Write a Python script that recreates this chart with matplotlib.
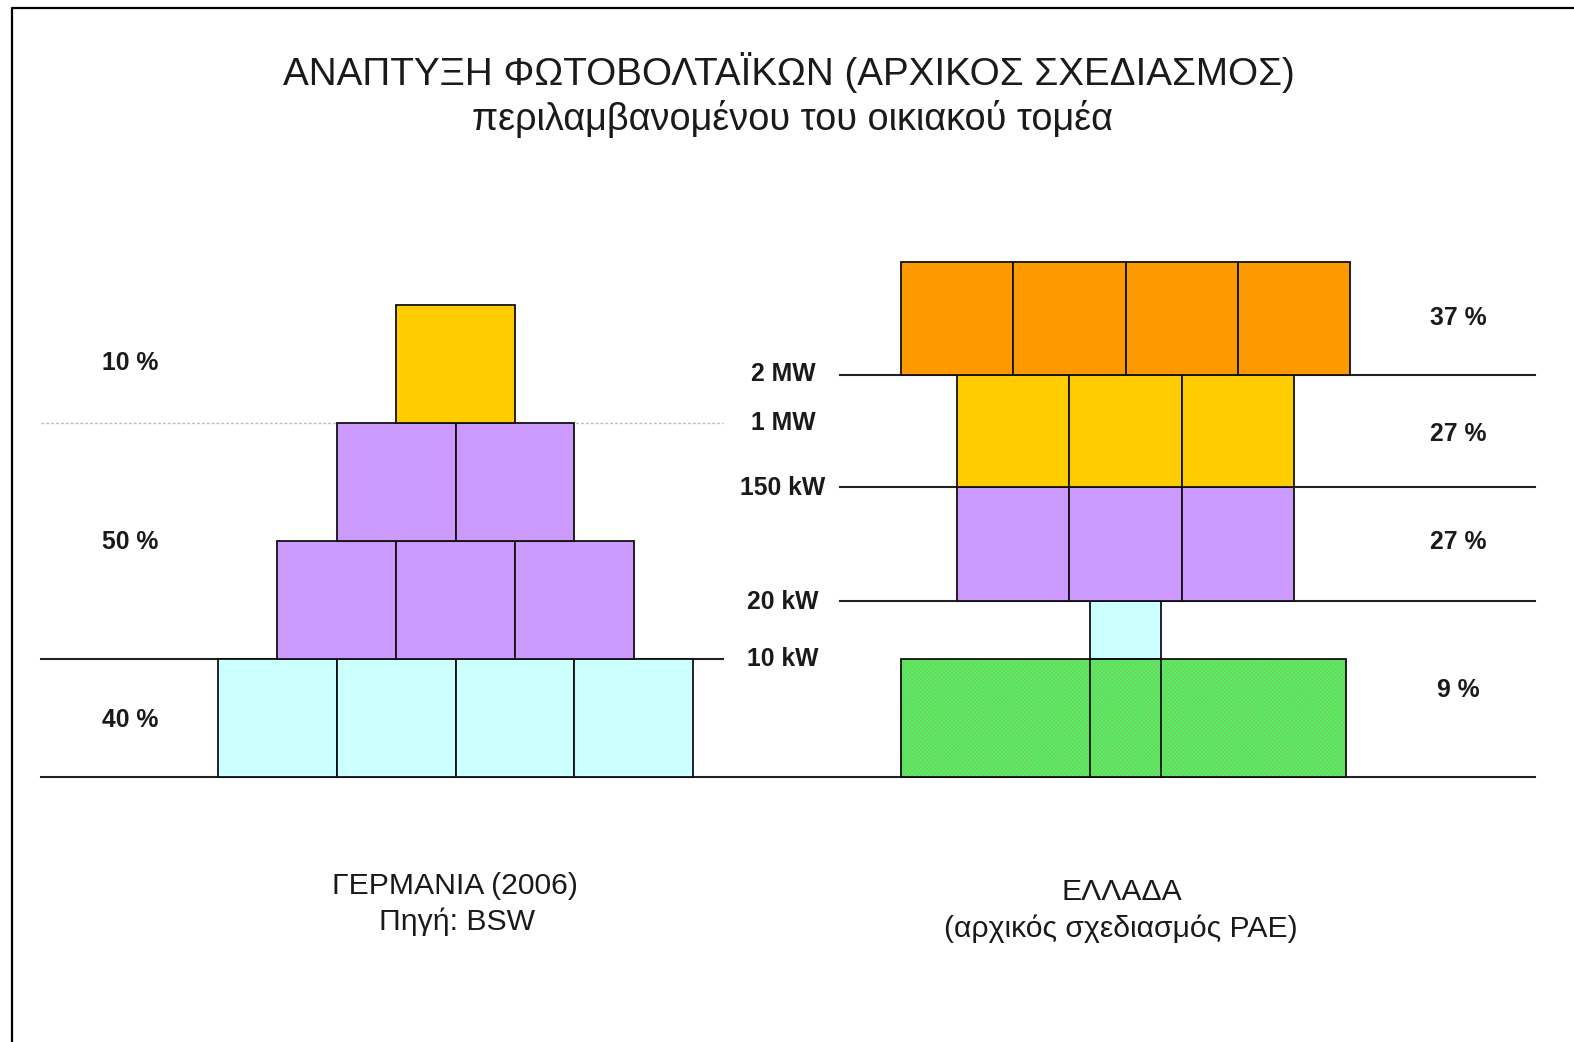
import matplotlib
matplotlib.use("Agg")
import matplotlib.pyplot as plt
from matplotlib.patches import Rectangle

plt.rcParams['font.family'] = ['Liberation Sans', 'DejaVu Sans']
plt.rcParams['hatch.linewidth'] = 0.45

# ---------------- data ----------------
title = "ΑΝΑΠΤΥΞΗ ΦΩΤΟΒΟΛΤΑΪΚΩΝ (ΑΡΧΙΚΟΣ ΣΧΕΔΙΑΣΜΟΣ)"
subtitle = "περιλαμβανομένου του οικιακού τομέα"

de_counts = [4, 3, 2, 1]                       # blocks per row, bottom -> top
de_colors = ["#ccffff", "#cc99ff", "#cc99ff", "#ffcc00"]
de_shares = ["40 %", "50 %", "10 %"]
de_caption = ["ΓΕΡΜΑΝΙΑ (2006)", "Πηγή: BSW"]

gr_counts = [4, 1, 3, 3, 4]                     # bottom -> top
gr_colors = ["#44ff44", "#ccffff", "#cc99ff", "#ffcc00", "#ff9900"]
gr_sizes = ["10 kW", "20 kW", "150 kW", "1 MW", "2 MW"]
gr_shares = ["9 %", "27 %", "27 %", "37 %"]
gr_caption = ["ΕΛΛΑΔΑ", "(αρχικός σχεδιασμός ΡΑΕ)"]

# ---------------- layout ----------------
W, H = 1574, 1042
fig = plt.figure(figsize=(W / 100, H / 100), dpi=100)
ax = fig.add_axes([0, 0, 1, 1])
ax.set_xlim(0, W)
ax.set_ylim(H, 0)
ax.axis("off")

base_y = 777
txtc = "#1a1a1a"
linec = "#222222"
LBL = 17.8

# border (left & top)
ax.plot([12, 12, W], [H, 8, 8], color="black", lw=1.6, solid_capstyle="butt")

# titles
ax.text(789, 85, title, ha="center", va="baseline", fontsize=27.8, color=txtc)
ax.text(792, 130, subtitle, ha="center", va="baseline", fontsize=27.3, color=txtc)

# ---------- Germany ----------
de_cx, de_bw, de_bh = 455.5, 118.75, 118
y = base_y
row_tops = []
for n, c in zip(de_counts, de_colors):
    x0 = de_cx - n * de_bw / 2
    for i in range(n):
        ax.add_patch(Rectangle((x0 + i * de_bw, y - de_bh), de_bw, de_bh,
                               facecolor=c, edgecolor="#111111", lw=1.3, zorder=3))
    y -= de_bh
    row_tops.append(y)

# Germany guide lines
ax.plot([41, 723], [row_tops[0], row_tops[0]], color=linec, lw=1.5, zorder=2)
ax.plot([41, 723], [row_tops[2], row_tops[2]], color="#bbbbbb", lw=1.0,
        ls=(0, (2, 1.5)), zorder=2)
ax.plot([41, 1535], [base_y, base_y], color=linec, lw=1.5, zorder=2)

de_label_y = [727, 549, 370]
for s, yy in zip(de_shares, de_label_y):
    ax.text(130.5, yy, s, ha="center", va="baseline", fontsize=LBL,
            fontweight="bold", color=txtc)

ax.text(455, 894, de_caption[0], ha="center", va="baseline", fontsize=21.7, color=txtc)
ax.text(457, 930, de_caption[1], ha="center", va="baseline", fontsize=21.7, color=txtc)

# ---------- Greece ----------
gr_cx = 1125.5
gr_bw = [111.25, 71, 112.3, 112.3, 112.25]
gr_bh = [118, 58, 114, 112, 113]
y = base_y
gr_tops = []
for k, (n, c) in enumerate(zip(gr_counts, gr_colors)):
    h = gr_bh[k]
    if k == 0:
        # single hatched block with two inner dividers
        x0, x1 = 901, 1346
        ax.add_patch(Rectangle((x0, y - h), x1 - x0, h, facecolor=c,
                               edgecolor="#8cb88c", hatch="xxxxxxxx", lw=0, zorder=3))
        ax.add_patch(Rectangle((x0, y - h), x1 - x0, h, facecolor="none",
                               edgecolor="#111111", lw=1.3, zorder=4))
        for xd in (gr_cx - gr_bw[1] / 2, gr_cx + gr_bw[1] / 2):
            ax.plot([xd, xd], [y - h, y], color="#111111", lw=1.3, zorder=4)
    else:
        bw = gr_bw[k]
        x0 = gr_cx - n * bw / 2
        for i in range(n):
            ax.add_patch(Rectangle((x0 + i * bw, y - h), bw, h, facecolor=c,
                                   edgecolor="#111111", lw=1.3, zorder=3))
    y -= h
    gr_tops.append(y)

for yy in gr_tops[1:4]:
    ax.plot([840, 1535], [yy, yy], color=linec, lw=1.5, zorder=2)

size_y = [666, 609, 495, 430, 381]
for s, yy in zip(gr_sizes, size_y):
    ax.text(783, yy, s, ha="center", va="baseline", fontsize=LBL,
            fontweight="bold", color=txtc)

share_y = [697, 549, 441, 325]
for s, yy in zip(gr_shares, share_y):
    ax.text(1458, yy, s, ha="center", va="baseline", fontsize=LBL,
            fontweight="bold", color=txtc)

ax.text(1122, 900, gr_caption[0], ha="center", va="baseline", fontsize=21.7, color=txtc)
ax.text(1121, 937, gr_caption[1], ha="center", va="baseline", fontsize=21.7, color=txtc)

fig.savefig("out.png", dpi=100, facecolor="white")
